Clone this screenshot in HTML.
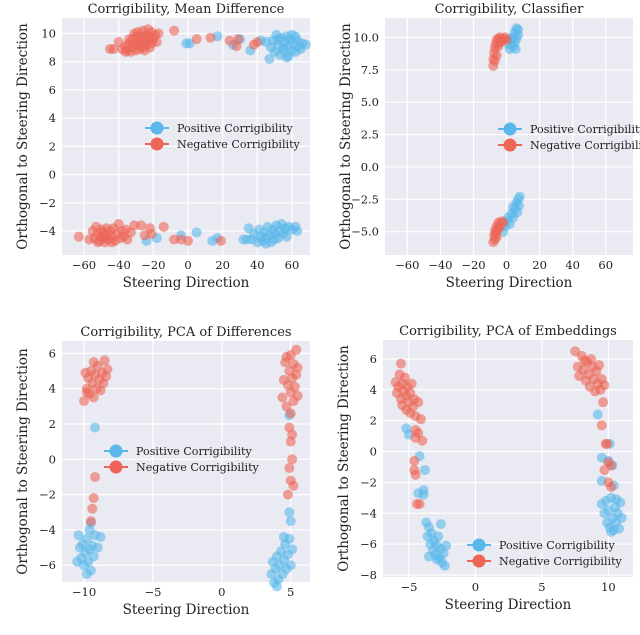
<!DOCTYPE html>
<html><head><meta charset="utf-8">
<style>
html,body{margin:0;padding:0;background:#fff;}
svg{display:block;font-family:"DejaVu Serif","Liberation Serif",serif;}
</style></head>
<body>
<svg id="fig" width="640" height="635" viewBox="0 0 640 635" xmlns="http://www.w3.org/2000/svg"></svg>
<script>
// ---- data ----
const p1Neg=[-38,8.9,-36,9.1,-35,8.8,-34,9.3,-33,8.7,-32,9.0,-32,9.6,-31,9.3,-30,8.8,-30,9.8,-29,9.2,-29,10.1,-28,9.5,-28,8.9,-27,9.8,-27,9.3,-26,10.2,-26,9.0,-25,9.6,-24,9.9,-24,9.2,-23,10.3,-23,9.5,-22,9.8,-21,9.3,-21,10.1,-20,9.6,-19,9.9,-18,9.4,-17,10.0,-31,10.0,-34,9.6,-36,8.7,-25,8.8,-22,9.0,-40,9.4,-45,8.9,-43,8.9,-8,10.2,5,9.6,13,9.7,24,9.5,28,9.1,29,9.6,38,9.2,40,9.4,
-57,-4.6,-55,-4.0,-54,-4.5,-53,-3.7,-52,-4.2,-51,-4.7,-50,-3.9,-50,-4.4,-49,-4.1,-48,-4.8,-47,-3.8,-47,-4.3,-46,-4.6,-45,-4.0,-44,-4.4,-43,-3.8,-42,-4.7,-41,-4.2,-40,-3.5,-39,-4.5,-38,-4.0,-37,-4.4,-36,-3.9,-35,-4.6,-33,-4.1,-48,-4.5,-52,-4.8,-44,-4.8,-63,-4.4,-31,-3.6,-27,-3.6,-22,-3.8,-21,-4.2,-14,-3.7,-25,-4.3,-8,-4.6,-4,-4.6,0,-4.7,19,-4.7];
const p1Pos=[45,9.4,47,8.2,48,9.0,49,9.5,50,8.7,51,9.9,52,9.2,53,8.5,54,9.7,55,9.0,56,9.4,57,8.3,57,9.8,58,9.1,59,9.6,60,8.8,60,9.9,61,9.3,62,8.7,63,9.5,64,9.1,65,8.9,66,9.3,68,9.2,55,8.8,58,8.4,52,9.6,62,9.8,-1,9.3,1,9.3,17,9.8,26,9.2,30,9.6,36,8.8,42,9.5,
35,-3.8,37,-4.6,38,-4.2,40,-4.8,41,-3.9,42,-4.4,43,-4.7,44,-4.1,45,-4.5,46,-3.7,47,-4.3,48,-4.8,49,-3.9,50,-4.2,51,-3.6,52,-4.5,53,-4.0,54,-3.5,55,-4.2,56,-3.8,57,-4.4,58,-3.7,60,-3.9,62,-3.7,63,-4.0,45,-4.9,50,-4.6,-24,-4.7,-18,-4.5,-4,-4.3,5,-4.1,14,-4.7,17,-4.5,32,-4.6,34,-4.6];
const p2Neg=[-8,7.8,-8,8.3,-7.5,8.8,-7,8.2,-7,9.2,-6.5,9.5,-6,8.6,-6,9.8,-5,9.3,-5,9.9,-4,9.6,-4,10.0,-3,9.7,-2,9.9,-1,10.0,0,9.8,-8,-5.8,-7.5,-5.3,-7,-5.6,-7,-4.9,-6.5,-5.1,-6,-4.6,-6,-5.4,-5.5,-4.9,-5,-4.3,-4.5,-4.7,-4,-4.5,-3,-4.2,-2,-4.3];
const p2Pos=[1,9.5,2,9.1,3,9.8,4,9.3,4,10.0,5,9.6,5,10.4,6,9.9,6,10.7,7,10.2,7,10.6,5.5,9.1,2,9.9,-2,-5.0,-1,-4.6,0,-4.2,1,-3.9,2,-4.4,3,-3.6,4,-3.9,5,-3.3,6,-2.8,6.5,-3.5,7,-2.5,7.5,-3.0,8,-2.3,4,-3.1];
const p3Neg=[-10,3.3,-9.8,4.0,-9.7,4.6,-9.6,3.7,-9.5,5.0,-9.4,4.3,-9.3,3.5,-9.2,4.8,-9.1,4.0,-9.0,5.3,-8.9,4.5,-8.8,3.9,-8.7,4.9,-8.6,4.3,-8.5,5.6,-8.4,4.7,-8.3,5.1,-9.9,4.9,-9.3,5.5,-9.8,3.8,-9.4,-2.8,-9.2,-1.0,-9.5,-3.5,-9.3,-2.2,
4.4,3.5,4.5,4.5,4.6,5.5,4.7,3.0,4.8,4.2,4.9,5.0,5.0,2.6,5.0,3.8,5.1,4.6,5.2,5.4,5.2,3.3,5.3,4.1,5.4,4.8,5.4,6.2,5.5,3.6,5.5,5.2,4.7,5.8,5.0,5.9,4.9,1.8,5.0,1.0,5.1,0.0,4.9,-0.5,5.0,-1.2,4.8,-2.0,5.2,-1.5,5.1,1.4];
const p3Pos=[-9.2,1.8,-9.5,-3.6,-9.6,-4.0,-10.4,-4.3,-10.3,-5.0,-10.2,-5.6,-10.1,-4.8,-10.0,-6.0,-9.9,-5.3,-9.8,-4.5,-9.7,-5.8,-9.6,-5.1,-9.5,-6.3,-9.4,-4.9,-9.3,-5.5,-9.2,-4.3,-9.0,-5.0,-8.8,-4.4,-10.5,-5.8,-9.8,-6.5,
3.6,-6.5,3.7,-5.8,3.8,-7.0,3.9,-6.2,4.0,-5.5,4.1,-6.8,4.2,-6.0,4.3,-5.2,4.4,-6.5,4.5,-5.7,4.6,-4.8,4.7,-6.2,4.8,-5.4,4.9,-4.5,5.0,-6.0,5.1,-5.1,4.0,-7.2,4.9,-3.0,5.0,-3.5,4.5,-4.4,4.9,2.5];
const p4Neg=[-6.0,4.5,-5.9,3.8,-5.8,4.2,-5.7,5.0,-5.6,3.4,-5.5,4.4,-5.5,3.0,-5.4,3.9,-5.3,4.8,-5.2,2.7,-5.2,3.6,-5.1,4.2,-5.0,3.2,-4.9,2.5,-4.9,3.8,-4.8,4.4,-4.7,2.9,-4.6,3.4,-4.5,2.3,-5.6,5.7,-4.3,3.2,-4.1,2.1,-4.5,1.4,-4.3,1.2,-4.5,0.9,-4.0,0.7,-4.6,-0.6,-4.6,-1.2,-4.5,-1.5,-4.2,-3.4,-4.4,-3.4,
7.5,6.5,7.7,5.5,7.8,4.9,8.0,6.2,8.1,5.3,8.3,4.6,8.4,5.8,8.5,5.0,8.6,4.2,8.8,5.5,8.9,4.7,9.0,3.9,9.1,5.2,9.2,4.4,9.3,5.6,9.4,4.0,9.5,4.7,9.7,4.3,8.2,5.9,8.7,6.0,9.6,3.2,9.5,1.7,9.8,0.5,9.9,0.5,10.0,-0.7,10.2,-0.9,9.7,-1.2,10.0,-2.0,10.2,-2.3];
const p4Pos=[-5.2,1.5,-5.0,1.1,-4.2,-0.3,-3.8,-1.2,-4.3,-2.7,-3.9,-2.5,-3.9,-2.8,-3.7,-4.6,-3.5,-4.9,-2.6,-4.7,-3.6,-5.5,-3.4,-6.0,-3.3,-5.3,-3.2,-6.4,-3.1,-5.8,-3.0,-6.7,-2.9,-6.1,-2.8,-5.5,-2.7,-6.9,-2.6,-6.3,-2.5,-7.2,-2.4,-6.6,-2.3,-7.4,-2.2,-6.1,-3.5,-6.8,-2.9,-7.0,
9.2,2.4,10.1,0.5,9.5,-0.4,10.0,-0.6,10.3,-0.9,9.5,-1.9,10.4,-2.2,9.5,-3.4,9.7,-4.0,9.8,-3.2,9.9,-4.6,10.0,-3.8,10.1,-4.9,10.2,-3.0,10.3,-4.3,10.4,-5.1,10.5,-3.6,10.6,-4.6,10.7,-4.0,10.8,-5.0,10.9,-3.3,11.0,-4.3,10.2,-5.2,10.6,-3.1];
const p1XTicks=[-60,-40,-20,0,20,40,60], p1YTicks=[-4,-2,0,2,4,6,8,10];
const p2XTicks=[-60,-40,-20,0,20,40,60], p2YTicks=[-5,-2.5,0,2.5,5,7.5,10];
const p3XTicks=[-10,-5,0,5], p3YTicks=[-6,-4,-2,0,2,4,6];
const p4XTicks=[-5,0,5,10], p4YTicks=[-8,-6,-4,-2,0,2,4,6];
const titles=["Corrigibility, Mean Difference","Corrigibility, Classifier","Corrigibility, PCA of Differences","Corrigibility, PCA of Embeddings"];

const NS="http://www.w3.org/2000/svg";
const svg=document.getElementById('fig');
const BLUE="#5ab7ea", RED="#ec6557";
function mk(tag,attrs,parent){const e=document.createElementNS(NS,tag);for(const k in attrs)e.setAttribute(k,attrs[k]);(parent||svg).appendChild(e);return e;}
function fmt(v,dec){let s=dec?v.toFixed(1):String(v);return s.replace('-','\u2212');}

function panel(idx,box,xd,yd,xt,yt,dec,pos,neg,leg){
  const g=mk('g',{});
  
  
  const sx=v=>box.x+(v-xd[0])/(xd[1]-xd[0])*box.w;
  const sy=v=>box.y+box.h-(v-yd[0])/(yd[1]-yd[0])*box.h;
  const bg=mk('rect',{x:box.x,y:box.y,width:box.w,height:box.h,fill:'#eaeaf2'},g);
  
  
  xt.forEach(t=>{const X=sx(t);
    mk('line',{x1:X,x2:X,y1:box.y,y2:box.y+box.h,stroke:'#fff','stroke-width':1.2},g);
    const tx=mk('text',{x:X,y:box.y+box.h+14,'font-size':11.5,'text-anchor':'middle',fill:'#222'},g);
    tx.textContent=fmt(t,false);
    
    });
  yt.forEach(t=>{const Y=sy(t);
    mk('line',{x1:box.x,x2:box.x+box.w,y1:Y,y2:Y,stroke:'#fff','stroke-width':1.2},g);
    const tx=mk('text',{x:box.x-6,y:Y+4,'font-size':11.5,'text-anchor':'end',fill:'#222'},g);
    tx.textContent=fmt(t,dec);
    
    });
  const draw=(arr,col,name)=>{for(let i=0;i<arr.length;i+=2){
    const c=mk('circle',{cx:sx(arr[i]),cy:sy(arr[i+1]),r:5,fill:col,'fill-opacity':0.6},g);
    
    }};
  draw(pos,BLUE,'positive-point');
  draw(neg,RED,'negative-point');
  const ti=mk('text',{x:box.x+box.w/2,y:box.y-5,'font-size':13,'text-anchor':'middle',fill:'#222'},g);
  ti.textContent=titles[idx];
  
  
  const xl=mk('text',{x:box.x+box.w/2,y:box.y+box.h+32,'font-size':13.5,'text-anchor':'middle',fill:'#222'},g);
  xl.textContent='Steering Direction';
  
  
  const yx=box.x-35, ym=box.y+box.h/2;
  const yl=mk('text',{x:yx,y:ym,'font-size':13.5,'text-anchor':'middle',fill:'#222',transform:`rotate(-90 ${yx} ${ym})`},g);
  yl.textContent='Orthogonal to Steering Direction';
  
  
  const lg=mk('g',{},g);
  
  
  [['Positive Corrigibility',BLUE],['Negative Corrigibility',RED]].forEach((e,i)=>{
    const Y=leg.y+i*16;
    const en=mk('g',{},lg);
    
    
    mk('line',{x1:leg.x,x2:leg.x+24,y1:Y,y2:Y,stroke:e[1],'stroke-width':2},en);
    mk('circle',{cx:leg.x+12,cy:Y,r:6.5,fill:e[1]},en);
    const t=mk('text',{x:leg.x+32,y:Y+4,'font-size':11.1,fill:'#222'},en);
    t.textContent=e[0];
  });
}
panel(0,{x:62,y:18,w:248,h:237},[-72.7,70.4],[-5.7,11.1],p1XTicks,p1YTicks,false,p1Pos,p1Neg,{x:145,y:128});
panel(1,{x:385,y:18,w:248,h:237},[-73.5,76.5],[-6.8,11.5],p2XTicks,p2YTicks,true,p2Pos,p2Neg,{x:498,y:129});
panel(2,{x:62,y:341,w:248,h:241},[-11.6,6.4],[-6.95,6.7],p3XTicks,p3YTicks,false,p3Pos,p3Neg,{x:104,y:451});
panel(3,{x:383,y:340,w:250,h:237},[-6.95,11.85],[-8.13,7.23],p4XTicks,p4YTicks,false,p4Pos,p4Neg,{x:467,y:545});
</script>
</body></html>
